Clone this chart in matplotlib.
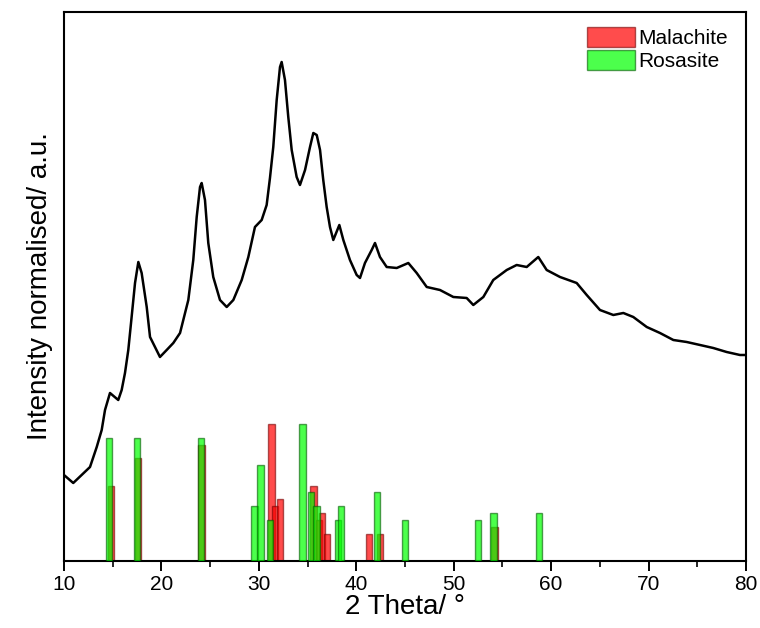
import matplotlib
matplotlib.use('Agg')
import matplotlib.pyplot as plt
import numpy as np
from matplotlib.ticker import MultipleLocator

plt.rcParams['font.family'] = ['Liberation Sans', 'DejaVu Sans']

# measured XRD pattern (2 theta, intensity in a.u.)
two_theta = [10.0, 10.95, 12.67, 13.36, 13.87, 14.21, 14.72, 15.57, 15.92, 16.26,
             16.60, 16.88, 17.29, 17.63, 17.97, 18.49, 18.83, 19.34, 19.85, 20.54,
             21.22, 21.91, 22.76, 23.27, 23.62, 23.96, 24.13, 24.47, 24.81, 25.32,
             26.01, 26.70, 27.38, 28.24, 28.92, 29.60, 30.29, 30.80, 31.14, 31.48,
             31.83, 32.17, 32.34, 32.68, 33.02, 33.37, 33.88, 34.22, 34.74, 35.25,
             35.59, 35.94, 36.28, 36.61, 36.96, 37.30, 37.64, 38.26, 38.67, 39.35,
             40.04, 40.38, 40.89, 41.58, 41.92, 42.43, 43.12, 44.15, 45.34, 46.20,
             47.23, 48.59, 49.96, 51.33, 52.01, 53.04, 54.06, 55.44, 56.46, 57.49,
             58.68, 59.54, 60.91, 62.62, 63.65, 65.01, 66.38, 67.41, 68.43, 69.81,
             71.17, 72.54, 73.91, 75.28, 76.64, 78.01, 79.38, 80.0]
intensity = [86, 78, 94, 114, 131, 151, 168, 161, 171, 188,
             211, 238, 278, 299, 288, 254, 224, 214, 204, 211,
             218, 228, 261, 301, 344, 374, 378, 361, 318, 284,
             261, 254, 261, 281, 304, 334, 341, 356, 383, 414,
             461, 494, 499, 481, 444, 411, 384, 376, 391, 414,
             428, 426, 411, 381, 354, 334, 321, 336, 321, 301,
             286, 283, 298, 311, 318, 304, 294, 293, 298, 288,
             274, 271, 264, 263, 256, 264, 281, 291, 296, 294,
             304, 291, 284, 278, 266, 251, 246, 248, 244, 234,
             228, 221, 219, 216, 213, 209, 206, 206]

# reference reflections (2 theta, relative intensity %)
malachite_pos = [14.85, 17.6, 24.1, 31.3, 31.65, 32.2, 35.6, 36.2, 36.45, 37.0, 41.3, 42.45, 54.2]
malachite_int = [55, 75, 85, 100, 40, 45, 55, 30, 35, 20, 20, 20, 25]
rosasite_pos = [14.65, 17.46, 24.05, 29.54, 30.16, 31.15, 34.49, 35.37, 35.92, 38.13,
                38.45, 42.1, 45.03, 52.5, 54.07, 58.75]
rosasite_int = [90, 90, 90, 40, 70, 30, 100, 50, 40, 30, 40, 50, 30, 30, 35, 35]

bar_scale = 1.37  # 100 % reflection drawn this tall in intensity units

fig = plt.figure(figsize=(7.6, 6.28), dpi=100)
ax = fig.add_axes([0.0842, 0.1067, 0.8974, 0.8742])

ax.bar(malachite_pos, np.array(malachite_int) * bar_scale, width=0.65,
       facecolor=(1, 0, 0, 0.7), edgecolor=(0.45, 0, 0, 0.6), linewidth=1,
       label='Malachite', zorder=2)
ax.bar(rosasite_pos, np.array(rosasite_int) * bar_scale, width=0.65,
       facecolor=(0, 1, 0, 0.7), edgecolor=(0, 0.35, 0, 0.6), linewidth=1,
       label='Rosasite', zorder=3)
ax.plot(two_theta, intensity, color='black', lw=1.8, zorder=4)

ax.set_xlim(10, 80)
ax.set_ylim(0, 549)
ax.xaxis.set_major_locator(MultipleLocator(10))
ax.xaxis.set_minor_locator(MultipleLocator(5))
ax.tick_params(axis='x', which='major', direction='out', length=7, width=1.4, labelsize=15, pad=3)
ax.tick_params(axis='x', which='minor', direction='out', length=4, width=1.2)
ax.set_yticks([])
for s in ax.spines.values():
    s.set_linewidth(1.5)

ax.set_xlabel('2 Theta/ °', fontsize=20, labelpad=0)
ax.set_ylabel('Intensity normalised/ a.u.', fontsize=20, labelpad=8)

ax.legend(loc='upper right', frameon=False, fontsize=15, handlelength=2.3,
          handleheight=1.1, handletextpad=0.15, labelspacing=0.1,
          borderaxespad=0.3, bbox_to_anchor=(0.995, 1.0))

fig.savefig('out.png', dpi=100)
